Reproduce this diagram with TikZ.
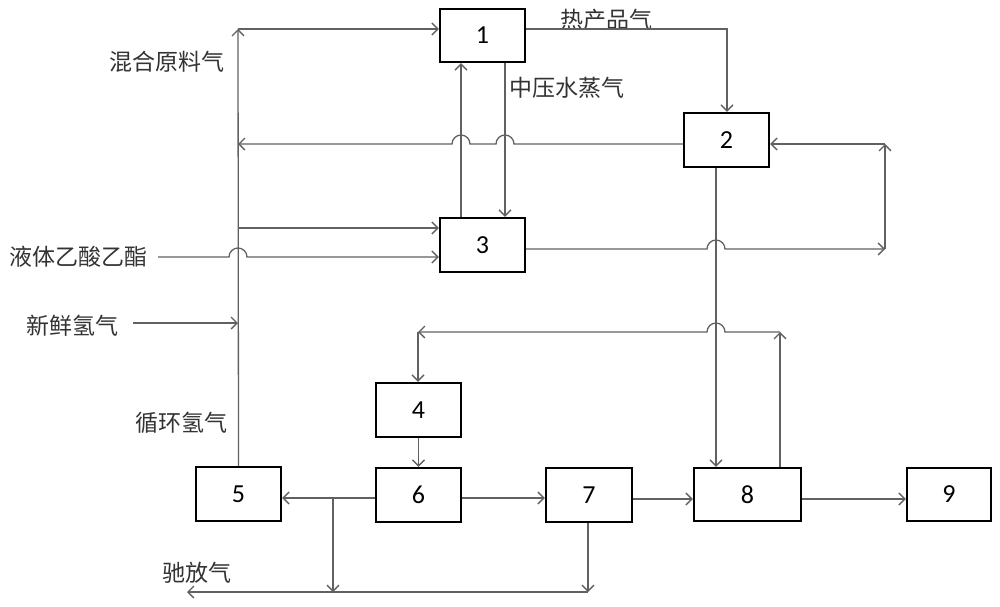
\documentclass[tikz,border=0pt]{standalone}
\usepackage{fontspec}
\newfontfamily\cjk{Noto Sans CJK SC}
\newfontfamily\numfont{Carlito}
\usetikzlibrary{arrows.meta,calc}
\begin{document}
\begin{tikzpicture}[x=1pt,y=-1pt,
  box/.style={draw=black,line width=2.4pt,inner sep=0pt,fill=white,font=\numfont\fontsize{26}{26}\selectfont},
  ln/.style={draw=black!62,line width=1.3pt},
  arr/.style={ln,-{Straight Barb[length=6pt,width=12pt,line width=1.3pt]}},
  lab/.style={inner sep=0pt,text=black!80,font=\cjk\fontsize{23}{23}\selectfont}]
\path[use as bounding box,fill=white] (0,0) rectangle (1000,606);
% boxes
\node[box,minimum width=85pt,minimum height=53pt] (b1) at (482.5,35.5) {1};
\node[box,minimum width=85pt,minimum height=54pt] (b2) at (726.5,140) {2};
\node[box,minimum width=85pt,minimum height=54pt] (b3) at (482.5,245) {3};
\node[box,minimum width=85pt,minimum height=54pt] (b4) at (418.5,410) {4};
\node[box,minimum width=85pt,minimum height=54pt] (b5) at (238.5,494) {5};
\node[box,minimum width=85pt,minimum height=54pt] (b6) at (418.5,495) {6};
\node[box,minimum width=86pt,minimum height=54pt] (b7) at (589,495) {7};
\node[box,minimum width=107pt,minimum height=53pt] (b8) at (747.5,494.5) {8};
\node[box,minimum width=84pt,minimum height=53pt] (b9) at (949,494.5) {9};
% labels
\node[lab] (l1) at (167,62) {混合原料气};
\node[lab] (l2) at (78.5,257) {液体乙酸乙酯};
\node[lab] (l3) at (72.5,326) {新鲜氢气};
\node[lab] (l4) at (181.5,423) {循环氢气};
\node[lab] (l5) at (197,573) {驰放气};
\node[lab] (l6) at (606.5,20) {热产品气};
\node[lab] (l7) at (567,88) {中压水蒸气};
% coordinates
\coordinate (mtop) at (238,29);
\coordinate (m144) at (238,144);
\coordinate (m228) at (238,228);
\coordinate (liq) at (158,257);
\coordinate (h2) at (133,323);
\coordinate (m323) at (238,323);
\coordinate (hp) at (727,29);
\coordinate (rc) at (885,249);
\coordinate (rt) at (885,144);
\coordinate (r8) at (780,332);
\coordinate (r4) at (418,332);
\coordinate (br) at (333,498);
\coordinate (bb) at (333,592);
\coordinate (b7b) at (588,592);
\coordinate (pend) at (187,592);
\coordinate (v31) at (461,0);
\coordinate (v13) at (505,0);
\coordinate (v28) at (716,0);
% connectors
\draw[arr] (b5.north) -- (mtop);
\draw[arr] (mtop) -- (mtop -| b1.west);
\draw[arr] (v31 |- b3.north) -- (v31 |- b1.south);
\draw[arr] (v13 |- b1.south) -- (v13 |- b3.north);
\draw[arr] (b2.west |- m144) -- (514,144) arc (0:180:9pt) -- (470,144) arc (0:180:9pt) -- (m144);
\draw[arr] (m228) -- (m228 -| b3.west);
\draw[arr] (liq) -- (229,257) arc (180:0:9pt) -- (liq -| b3.west);
\draw[arr] (h2) -- (m323);
\draw[arr] (b1.east |- hp) -- (hp) -- (hp |- b2.north);
\draw[arr] (b3.east |- rc) -- (707,249) arc (180:0:9pt) -- (rc);
\draw[arr] (rc) -- (rt);
\draw[arr] (rt) -- (rt -| b2.east);
\draw[arr] (v28 |- b2.south) -- (v28 |- b8.north);
\draw[arr] (r8 |- b8.north) -- (r8);
\draw[arr] (r8) -- (725,332) arc (0:180:9pt) -- (r4);
\draw[arr] (r4) -- (r4 |- b4.north);
\draw[arr] (b4.south) -- (b6.north);
\draw[arr] (b6.west |- br) -- (b5.east |- br);
\draw[arr] (br) -- (bb);
\draw[arr] (b7b |- b7.south) -- (b7b);
\draw[arr] (b7b) -- (pend);
\draw[arr] (b6.east |- br) -- (b7.west |- br);
\draw[arr] (b7.east |- 0,499) -- (b8.west |- 0,499);
\draw[arr] (b8.east |- 0,499) -- (b9.west |- 0,499);
\end{tikzpicture}
\end{document}
